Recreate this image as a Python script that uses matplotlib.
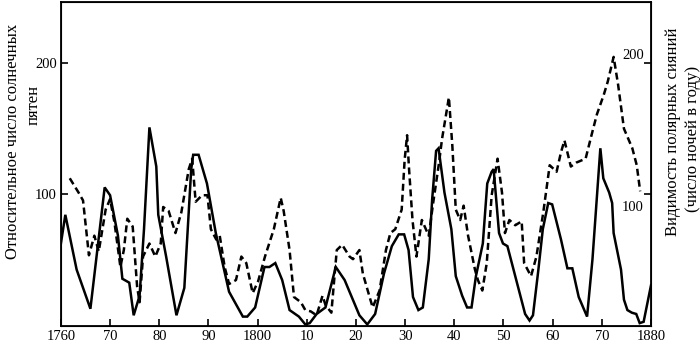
import matplotlib
matplotlib.use("Agg")
import matplotlib.pyplot as plt

plt.rcParams['font.family'] = ['Liberation Serif', 'DejaVu Serif']

# solid: relative sunspot number
sun_years = [1760, 1760.9, 1763.2, 1766, 1768.9, 1770, 1771.6, 1772.5, 1773.9, 1774.8,
             1776, 1776.9, 1778, 1779.4, 1779.8, 1781.4, 1783.5, 1785.1, 1786.5, 1786.9,
             1788, 1789.7, 1791.5, 1794.2, 1797, 1797.9, 1799.5, 1801.4, 1802.4, 1803.6,
             1805, 1806.5, 1808.4, 1809.7, 1810.6, 1812, 1813.8, 1815.9, 1817.7, 1820.7,
             1822.3, 1823.9, 1825.7, 1827.3, 1828.7, 1829.8, 1830.7, 1831.6, 1832.7, 1833.6,
             1834.8, 1835.5, 1836.3, 1836.8, 1838, 1839.4, 1840.3, 1841.6, 1842.6, 1843.5,
             1844.4, 1845.8, 1846.7, 1847.6, 1848, 1849.1, 1849.9, 1850.8, 1852.6, 1854.4,
             1855.3, 1856, 1857.1, 1858, 1859.1, 1859.9, 1861.7, 1863, 1864, 1865.3,
             1867, 1868.1, 1869.7, 1870.3, 1871.5, 1872.1, 1872.4, 1873.9, 1874.5, 1875.2,
             1876.1, 1877, 1877.7, 1878.5, 1880]
sun_vals = [62, 84, 42, 12, 105, 99, 68, 35, 32, 7,
            22, 73, 151, 121, 84, 52, 7, 28, 119, 130,
            130, 108, 70, 25, 6, 6, 13, 44, 44, 47,
            34, 11, 6, 0, 1, 8, 13, 44, 34, 7,
            0, 8, 39, 60, 69, 69, 57, 21, 11, 13,
            50, 96, 133, 135, 101, 73, 37, 22, 13, 13,
            37, 62, 108, 117, 119, 70, 62, 60, 34, 8,
            3, 7, 42, 73, 93, 92, 65, 43, 43, 21,
            6, 50, 135, 112, 101, 93, 70, 42, 19, 11,
            9, 8, 1, 2, 30]

# dashed: aurora visibility (nights per year)
aur_years = [1761.8, 1763.6, 1764.5, 1765.7, 1766.8, 1767.7, 1769.1, 1770, 1770.9, 1772.1,
             1772.8, 1773.5, 1774.6, 1775.5, 1776, 1776.7, 1778, 1779.2, 1780.3, 1780.8,
             1781.9, 1783.3, 1784.5, 1786, 1786.7, 1787.4, 1788.7, 1789.8, 1790.5, 1791.6,
             1792.3, 1793.3, 1794.2, 1795.6, 1796.7, 1797.7, 1799, 1800.1, 1801.5, 1803.3,
             1804.7, 1805.3, 1806.5, 1807.4, 1808.8, 1809.7, 1810.8, 1812, 1813.2, 1813.8,
             1815, 1816.1, 1817.2, 1818.7, 1819.4, 1820.7, 1821.4, 1822.7, 1823.4, 1824.8,
             1826.1, 1827, 1828, 1829.3, 1829.9, 1830.4, 1830.8, 1831.5, 1832.3, 1833.4,
             1834.8, 1835.7, 1836.9, 1837.5, 1838.9, 1839.6, 1840.3, 1841.2, 1841.9, 1842.8,
             1844.2, 1844.8, 1845.7, 1846.6, 1847.6, 1848.8, 1849.7, 1850.3, 1851.2, 1852.4,
             1853.7, 1854.2, 1855.6, 1856.7, 1858.1, 1859.4, 1860.8, 1861.7, 1862.4, 1863.7,
             1864.8, 1866.7, 1867.9, 1869, 1870.4, 1871.2, 1872.4, 1873.3, 1874.5, 1876.2,
             1877.1, 1877.8]
aur_vals = [112, 101, 95, 53, 68, 56, 88, 96, 78, 44,
            57, 81, 75, 29, 17, 52, 62, 52, 62, 90,
            87, 70, 86, 119, 127, 94, 99, 99, 73, 65,
            68, 44, 31, 34, 52, 47, 24, 33, 52, 73,
            97, 87, 57, 21, 17, 11, 10, 7, 22, 15,
            9, 57, 61, 52, 50, 57, 39, 22, 13, 26,
            57, 70, 73, 88, 126, 145, 119, 80, 52, 80,
            68, 93, 124, 142, 174, 137, 88, 80, 91, 68,
            42, 34, 26, 47, 99, 127, 101, 70, 80, 76,
            79, 47, 37, 52, 86, 122, 117, 132, 141, 121,
            124, 127, 145, 161, 176, 186, 205, 184, 150, 135,
            122, 102]

xticks = list(range(1760, 1881, 10))
xlabels = ['1760', '70', '80', '90', '1800', '10', '20', '30', '40', '50', '60', '70', '1880']
yticks = [100, 200]
right_ticks = [100, 200]

fig = plt.figure(figsize=(7, 3.51), dpi=100)
ax = fig.add_axes([0.087, 0.072, 0.843, 0.922])

ax.plot(sun_years, sun_vals, color='black', lw=1.8, solid_joinstyle='miter')
ax.plot(aur_years, aur_vals, color='black', lw=1.8, dashes=(2.8, 1.6))

ax.set_xlim(1760, 1880)
ax.set_ylim(-1, 247)
ax.set_xticks(xticks)
ax.set_xticklabels(xlabels)
ax.set_yticks(yticks)
ax.tick_params(direction='in', length=5, width=1.2, labelsize=10.5, pad=3)
for s in ax.spines.values():
    s.set_linewidth(1.3)

ax2 = ax.twinx()
ax2.set_ylim(ax.get_ylim())
ax2.set_yticks(right_ticks)
ax2.set_yticklabels([])
ax2.tick_params(direction='in', length=5, width=1.2)
for v, dy in zip(right_ticks, [-10, 6]):
    ax2.annotate(str(v), xy=(1, v), xycoords=('axes fraction', 'data'),
                 xytext=(-5, dy), textcoords='offset points',
                 ha='right', va='center', fontsize=10.5)

fig.text(0.019, 0.598, 'Относительное число солнечных', rotation=90,
         ha='center', va='center', fontsize=12)
fig.text(0.048, 0.70, 'пятен', rotation=90, ha='center', va='center', fontsize=12)
fig.text(0.962, 0.624, 'Видимость полярных сияний', rotation=90,
         ha='center', va='center', fontsize=12)
fig.text(0.99, 0.604, '(число ночей в году)', rotation=90,
         ha='center', va='center', fontsize=12)

fig.savefig('out.png', dpi=100)
